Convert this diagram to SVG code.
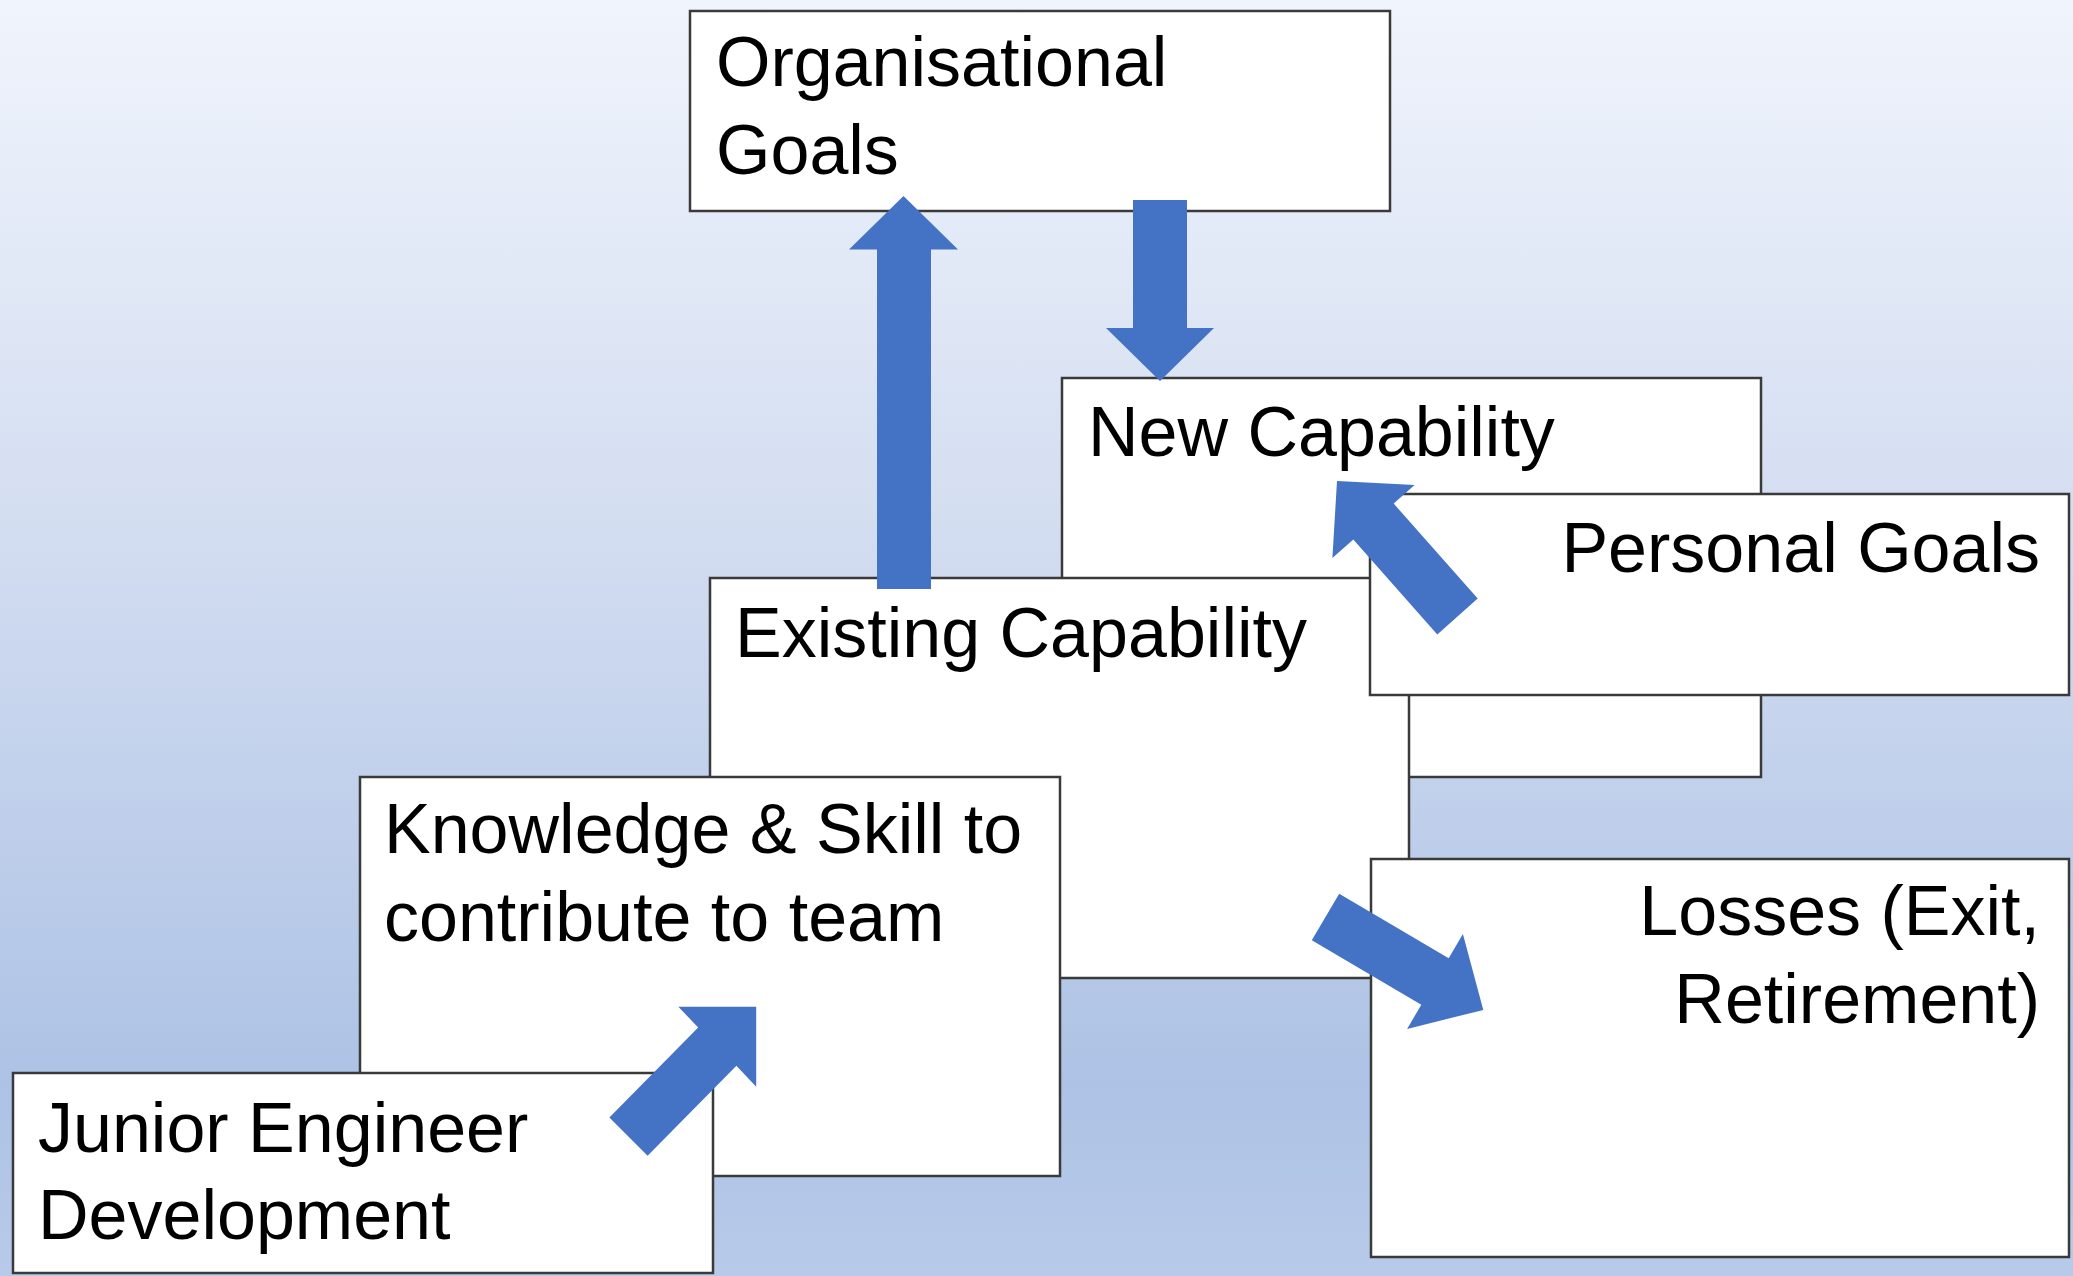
<svg xmlns="http://www.w3.org/2000/svg" width="2073" height="1276" viewBox="0 0 2073 1276">
<defs>
<linearGradient id="bg" x1="0" y1="0" x2="0" y2="1">
<stop offset="0" stop-color="#f0f4fc"/>
<stop offset="0.4" stop-color="#d4def1"/>
<stop offset="0.85" stop-color="#adc2e5"/>
<stop offset="1" stop-color="#b8cae9"/>
</linearGradient>
<style>
.box{fill:#ffffff;stroke:#3a3a3a;stroke-width:2.5}
.lbl{font-family:"Liberation Sans",Arial,sans-serif;font-size:70px;fill:#000000}
.r{text-anchor:end}
.arrow{fill:#4472c4}
</style>
</defs>
<rect x="0" y="0" width="2073" height="1276" fill="url(#bg)"/>
<g id="organisational-goals">
<rect class="box" x="690" y="11" width="700" height="200"/>
<text class="lbl" x="716" y="86">Organisational</text>
<text class="lbl" x="716" y="174">Goals</text>
</g>
<g id="new-capability">
<rect class="box" x="1062" y="378" width="699" height="399"/>
<text class="lbl" x="1088" y="456">New Capability</text>
</g>
<g id="existing-capability">
<rect class="box" x="710" y="578" width="699" height="400"/>
<text class="lbl" x="735" y="657">Existing Capability</text>
</g>
<g id="personal-goals">
<rect class="box" x="1370" y="494" width="699" height="201"/>
<text class="lbl r" x="2040" y="572">Personal Goals</text>
</g>
<g id="knowledge-skill">
<rect class="box" x="360" y="777" width="700" height="399"/>
<text class="lbl" x="384" y="853">Knowledge &amp; Skill to</text>
<text class="lbl" x="384" y="941">contribute to team</text>
</g>
<g id="junior-engineer">
<rect class="box" x="13" y="1073" width="700" height="200"/>
<text class="lbl" x="38" y="1152">Junior Engineer</text>
<text class="lbl" x="38" y="1239">Development</text>
</g>
<g id="losses">
<rect class="box" x="1371" y="859" width="698" height="398"/>
<text class="lbl r" x="2040" y="935">Losses (Exit,</text>
<text class="lbl r" x="2040" y="1023">Retirement)</text>
</g>
<g id="connectors">
<polygon class="arrow" points="903.5,196 958,249.5 931,249.5 931,589 877,589 877,249.5 849,249.5"/>
<polygon class="arrow" points="1133,200 1187,200 1187,328 1214,328 1160,381 1106,328 1133,328"/>
<polygon class="arrow" points="1337,481 1414.6,485 1393.7,503.6 1477.7,598.6 1437.3,634.4 1353.3,539.4 1332.4,558"/>
<polygon class="arrow" points="1339.2,893.7 1448.7,958.2 1462.9,934.1 1483.3,1009.9 1407.1,1028.9 1421.3,1004.8 1311.8,940.3"/>
<polygon class="arrow" points="756.2,1006.7 756.2,1086.7 736.4,1065.8 647.6,1155.8 609.4,1117.6 698.2,1027.6 678.4,1006.7"/>
</g>
</svg>
